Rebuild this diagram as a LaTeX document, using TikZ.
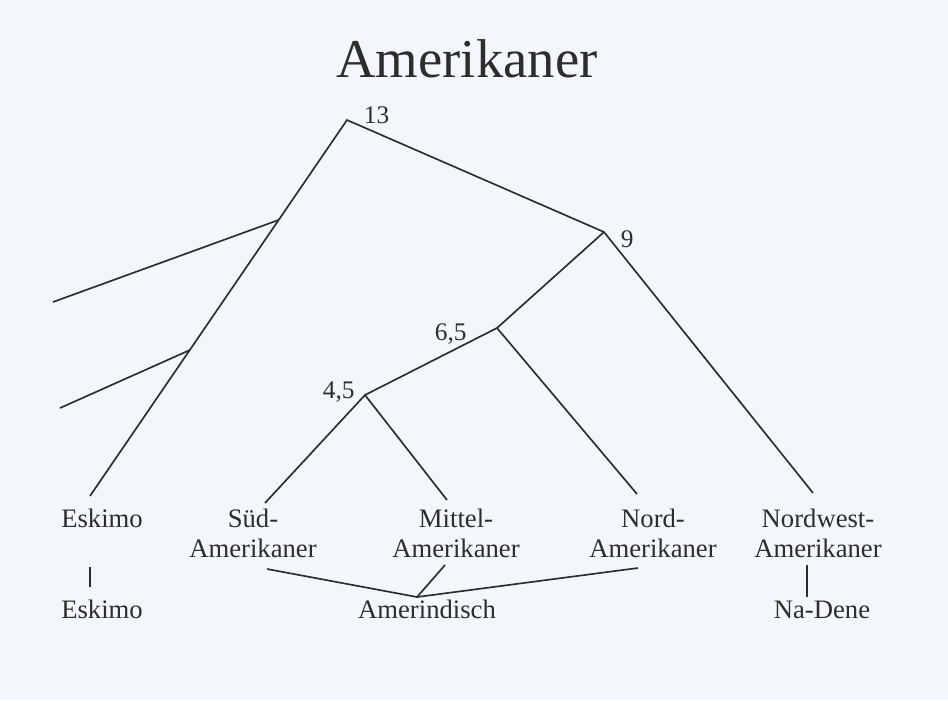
\documentclass[tikz,border=0pt]{standalone}
\usepackage{fontspec}
\setmainfont{Liberation Serif}
\definecolor{paper}{RGB}{243,246,250}
\definecolor{ink}{RGB}{45,45,45}

\begin{document}
\begin{tikzpicture}[x=0.75pt, y=-0.75pt, line width=1.25pt, color=ink,
  leaf/.style={align=center, font=\fontsize{20}{22.5}\selectfont, anchor=base, inner sep=0pt},
  num/.style={font=\fontsize{19}{21}\selectfont, anchor=base west, inner sep=0pt}]

\fill[paper] (0,0) rectangle (948,700);
\useasboundingbox (0,0) rectangle (948,700);

\node[font=\fontsize{41}{45}\selectfont, anchor=base, inner sep=0pt] (title) at (467,77) {Amerikaner};

% branch points
\coordinate (n13) at (347,120);
\coordinate (n9) at (604,232);
\coordinate (n65) at (497,328);
\coordinate (n45) at (365,395);
\coordinate (sideA) at (278.6,220);
\coordinate (sideB) at (190,350);

\node[num] (l13) at (363,123) {13};
\node[num] (l9) at (620,247) {9};
\node[num] (l65) at (434,340) {6,5};
\node[num] (l45) at (322,398) {4,5};

% free ends
\coordinate (eskEnd) at (90,496);
\coordinate (sudEnd) at (265,503);
\coordinate (mitEnd) at (447,500);
\coordinate (nordEnd) at (637,494);
\coordinate (nwEnd) at (813,493);
\coordinate (outA) at (53,302);
\coordinate (outB) at (60,408);

\draw (eskEnd) -- (n13) -- (n9) -- (nwEnd);
\draw (sideA) -- (outA);
\draw (sideB) -- (outB);
\draw (n9) -- (n65) -- (nordEnd);
\draw (n65) -- (n45) -- (sudEnd);
\draw (n45) -- (mitEnd);

% leaves (base = last line)
\node[leaf] (esk) at (102,527) {Eskimo};
\node[leaf] (sud) at (253,557) {Süd-\\Amerikaner};
\node[leaf] (mit) at (456,557) {Mittel-\\Amerikaner};
\node[leaf] (nord) at (653,557) {Nord-\\Amerikaner};
\node[leaf] (nw) at (818,557) {Nordwest-\\Amerikaner};

% language families
\node[leaf] (eskL) at (102,618) {Eskimo};
\node[leaf] (amer) at (427,618) {Amerindisch};
\node[leaf] (nadene) at (822,618) {Na-Dene};

\coordinate (eskA) at (90,567);
\coordinate (eskB) at (90,587);
\coordinate (amJoin) at (417,597);
\coordinate (sudB) at (267,569);
\coordinate (mitB) at (445,565);
\coordinate (nordB) at (638,568);
\coordinate (nwA) at (807,565);
\coordinate (nwB) at (807,597);

\draw (eskA) -- (eskB);
\draw (sudB) -- (amJoin) -- (nordB);
\draw (mitB) -- (amJoin);
\draw (nwA) -- (nwB);

\end{tikzpicture}
\end{document}
